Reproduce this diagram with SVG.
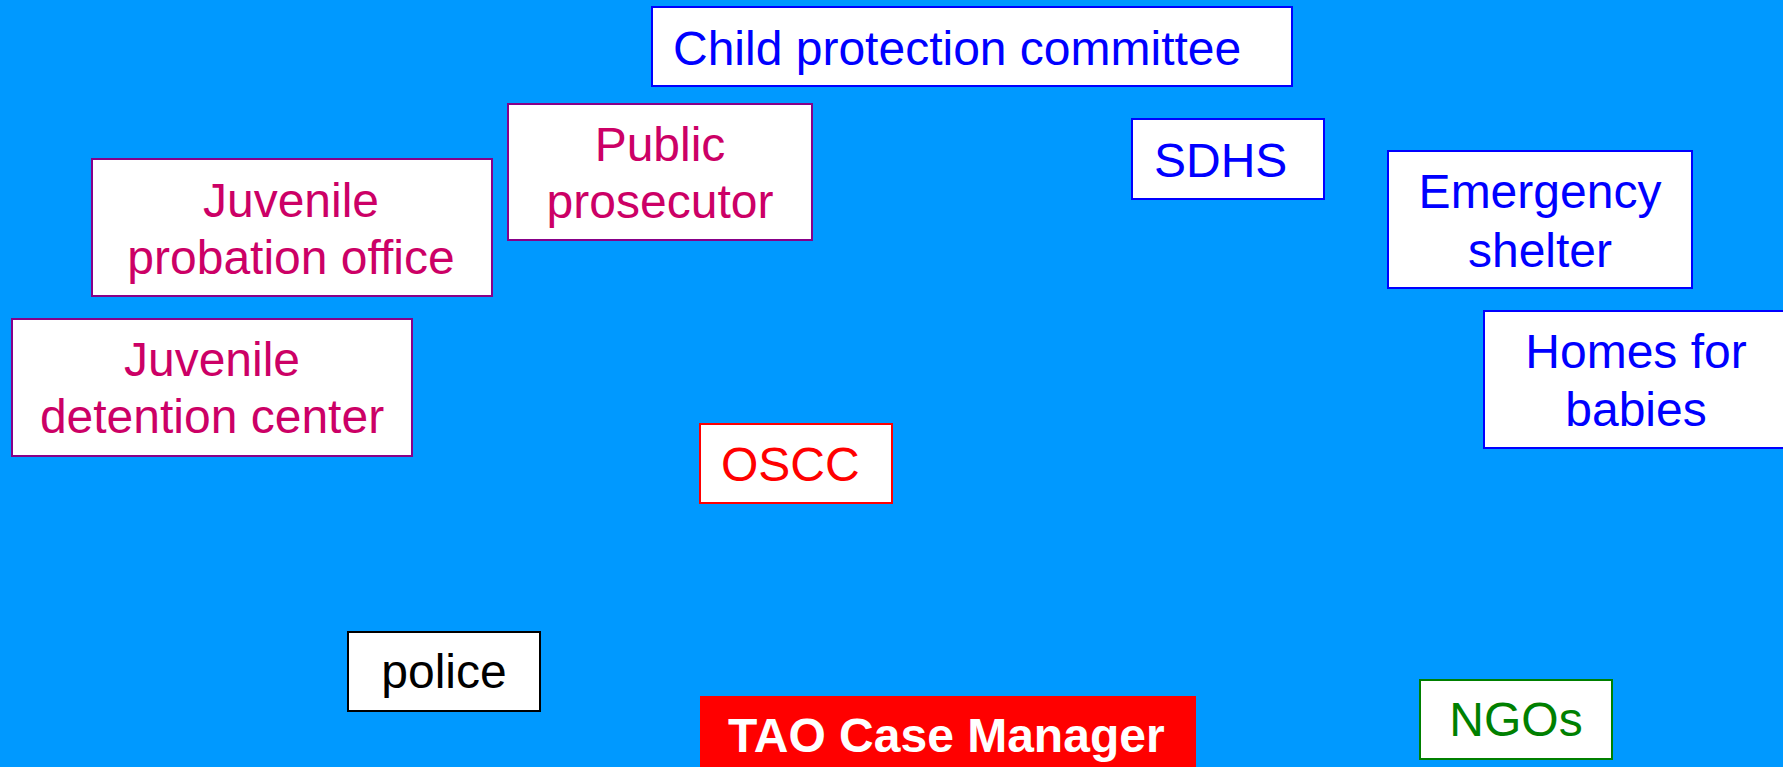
<svg xmlns="http://www.w3.org/2000/svg" width="1783" height="767" viewBox="0 0 1783 767">
  <style>
    text { font-family: "Liberation Sans", Arial, sans-serif; font-size: 48px; }
    .box { fill: #ffffff; stroke-width: 2; }
    .blue rect { stroke: #0000ff; }
    .blue text { fill: #0000ff; }
    .mag rect { stroke: #880088; }
    .mag text { fill: #cc0066; }
    .c { text-anchor: middle; }
  </style>
  <rect x="0" y="0" width="1783" height="767" fill="#0099ff"/>

  <g id="child-protection-committee" class="blue">
    <rect class="box" x="652" y="7" width="640" height="79"/>
    <text x="673" y="65">Child protection committee</text>
  </g>

  <g id="public-prosecutor" class="mag">
    <rect class="box" x="508" y="104" width="304" height="136"/>
    <text class="c" x="660" y="161">Public</text>
    <text class="c" x="660" y="218">prosecutor</text>
  </g>

  <g id="juvenile-probation-office" class="mag">
    <rect class="box" x="92" y="159" width="400" height="137"/>
    <text class="c" x="291" y="217">Juvenile</text>
    <text class="c" x="291" y="274">probation office</text>
  </g>

  <g id="juvenile-detention-center" class="mag">
    <rect class="box" x="12" y="319" width="400" height="137"/>
    <text class="c" x="212" y="376">Juvenile</text>
    <text class="c" x="212" y="433">detention center</text>
  </g>

  <g id="sdhs" class="blue">
    <rect class="box" x="1132" y="119" width="192" height="80"/>
    <text x="1154" y="177">SDHS</text>
  </g>

  <g id="emergency-shelter" class="blue">
    <rect class="box" x="1388" y="151" width="304" height="137"/>
    <text class="c" x="1540" y="208">Emergency</text>
    <text class="c" x="1540" y="267">shelter</text>
  </g>

  <g id="homes-for-babies" class="blue">
    <rect class="box" x="1484" y="311" width="300" height="137"/>
    <text class="c" x="1636" y="368">Homes for</text>
    <text class="c" x="1636" y="426">babies</text>
  </g>

  <g id="oscc">
    <rect class="box" x="700" y="424" width="192" height="79" stroke="#ff0000"/>
    <text x="721" y="481" fill="#ff0000">OSCC</text>
  </g>

  <g id="police">
    <rect class="box" x="348" y="632" width="192" height="79" stroke="#000000"/>
    <text class="c" x="444" y="688" fill="#000000">police</text>
  </g>

  <g id="tao-case-manager">
    <rect x="700" y="696" width="496" height="75" fill="#ff0000"/>
    <text x="728" y="752" fill="#ffffff" font-weight="bold">TAO Case Manager</text>
  </g>

  <g id="ngos">
    <rect class="box" x="1420" y="680" width="192" height="79" stroke="#008000"/>
    <text class="c" x="1516" y="736" fill="#008000">NGOs</text>
  </g>

  <g id="connectors"/>
</svg>
